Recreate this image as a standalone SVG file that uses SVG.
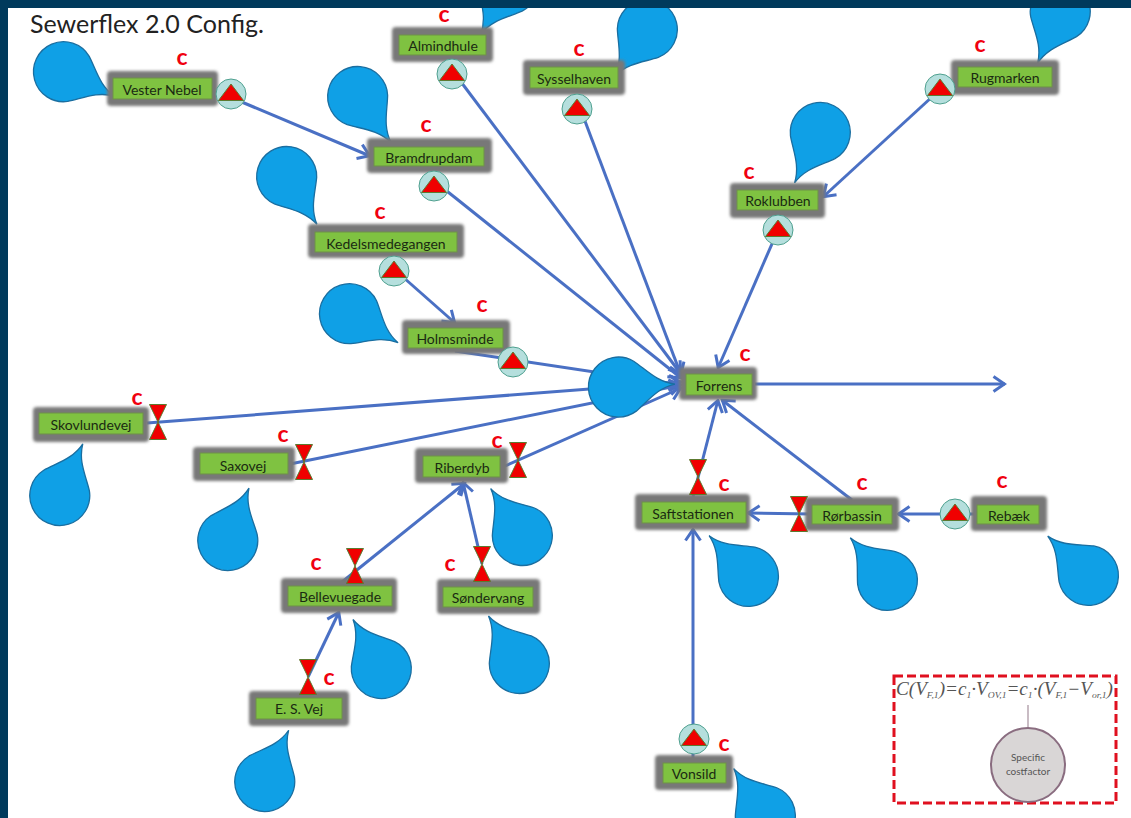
<svg xmlns="http://www.w3.org/2000/svg" width="1131" height="818" viewBox="0 0 1131 818">
<style>
.n{fill:#7fc241;stroke:#6f8f4a;stroke-width:1}
.h{fill:#787878;filter:url(#b)}
.t{font:14px "Lato","Open Sans",sans-serif;fill:#1a2a12;text-anchor:middle;dominant-baseline:central}
.c{font:bold 23px "Lato","Open Sans",sans-serif;fill:#f00010;text-anchor:middle;dominant-baseline:central}
.l{stroke:#4a70c4;stroke-width:3;fill:none}
.d{fill:#0fa0e6;stroke:#1a6ea0;stroke-width:1.3}
.p{fill:#b5dfdd;stroke:#4fa08f;stroke-width:1}
.r{fill:#f00000;stroke:#5c7a30;stroke-width:1}
.f{font:italic 18px "Liberation Serif",serif;fill:#555}
.s{font-size:9px}
.q{font:10px "Lato",sans-serif;fill:#555;text-anchor:middle}
</style>
<defs>
<filter id="b" x="-20%" y="-40%" width="140%" height="180%"><feGaussianBlur stdDeviation="1.5"/></filter>
<marker id="a" viewBox="0 0 16 18" refX="14.5" refY="9" markerWidth="16" markerHeight="18" markerUnits="userSpaceOnUse" orient="auto"><path d="M3 1.5L14 9L3 16.5" fill="none" stroke="#4a70c4" stroke-width="3"/></marker>
<path id="dr" class="d" d="M56 0C38 3 28 16 16 25A30 30 0 1 1 16 -25C28 -16 38 -3 56 0Z"/>
<g id="pu"><circle class="p" r="15"/><path class="r" d="M0 -10L12.5 6.5H-12.5Z"/></g>
<path id="va" class="r" d="M-8.5 -17.5H8.5L0 0L8.5 17.5H-8.5L0 0Z"/>
</defs>
<rect width="1131" height="818" fill="#003a5c"/>
<rect x="8" y="8" width="1123" height="810" fill="#fff"/>
<text x="30" y="33" font-family="Lato, 'Open Sans', sans-serif" font-size="25" fill="#222">Sewerflex 2.0 Config.</text>
<g id="connectors" class="l">
<path d="M218 92L370 156" marker-end="url(#a)"/>
<path d="M452 70L681 374" marker-end="url(#a)"/>
<path d="M577 100L681 375" marker-end="url(#a)"/>
<path d="M433 180L681 378" marker-end="url(#a)"/>
<path d="M395 270L455 323" marker-end="url(#a)"/>
<path d="M455 351L681 385" marker-end="url(#a)"/>
<path d="M945 85L823 197" marker-end="url(#a)"/>
<path d="M778 230L718 368" marker-end="url(#a)"/>
<path d="M147 423L681 382" marker-end="url(#a)"/>
<path d="M290 464L681 385" marker-end="url(#a)"/>
<path d="M505 466L681 388" marker-end="url(#a)"/>
<path d="M693 497L718 400" marker-end="url(#a)"/>
<path d="M852 500L722 400" marker-end="url(#a)"/>
<path d="M812 514L748 513" marker-end="url(#a)"/>
<path d="M975 514L898 514" marker-end="url(#a)"/>
<path d="M755 384L1005 384" marker-end="url(#a)"/>
<path d="M342 582L465 483" marker-end="url(#a)"/>
<path d="M482 564L463 482" marker-end="url(#a)"/>
<path d="M308 677L339 612" marker-end="url(#a)"/>
<path d="M693 763L693 529" marker-end="url(#a)"/>
</g>
<g id="vester-nebel"><use href="#dr" transform="translate(64 72) rotate(25.6)"/><rect class="h" x="107" y="71" width="111" height="35" rx="4"/><rect class="n" x="113" y="78" width="99" height="21"/><text class="t" x="162" y="89">Vester Nebel</text><use href="#pu" x="231" y="94"/><text class="c" x="182" y="56">c</text></g>
<g id="almindhule"><use href="#dr" transform="translate(508 -15) rotate(119)"/><rect class="h" x="392" y="27" width="101" height="35" rx="4"/><rect class="n" x="399" y="35" width="87" height="20"/><text class="t" x="443" y="45">Almindhule</text><use href="#pu" x="452" y="74"/><text class="c" x="444" y="13">c</text></g>
<g id="sysselhaven"><use href="#dr" transform="translate(647 30) rotate(125)"/><rect class="h" x="523" y="60" width="102" height="35" rx="4"/><rect class="n" x="530" y="67" width="88" height="21"/><text class="t" x="574" y="78">Sysselhaven</text><use href="#pu" x="577" y="109"/><text class="c" x="579" y="47">c</text></g>
<g id="rugmarken"><use href="#dr" transform="translate(1060 12) rotate(113.6)"/><rect class="h" x="951" y="60" width="108" height="35" rx="4"/><rect class="n" x="958" y="67" width="94" height="20"/><text class="t" x="1005" y="77">Rugmarken</text><use href="#pu" x="940" y="89"/><text class="c" x="980" y="43">c</text></g>
<g id="bramdrupdam"><use href="#dr" transform="translate(358 97) rotate(54)"/><rect class="h" x="367" y="138" width="125" height="35" rx="4"/><rect class="n" x="374" y="147" width="110" height="19"/><text class="t" x="429" y="157">Bramdrupdam</text><use href="#pu" x="434" y="186"/><text class="c" x="426" y="123">c</text></g>
<g id="roklubben"><use href="#dr" transform="translate(820 133) rotate(117)"/><rect class="h" x="730" y="183" width="95" height="35" rx="4"/><rect class="n" x="737" y="190" width="81" height="20"/><text class="t" x="778" y="200">Roklubben</text><use href="#pu" x="778" y="230"/><text class="c" x="749" y="170">c</text></g>
<g id="kedelsmedegangen"><use href="#dr" transform="translate(287 177) rotate(57.7)"/><rect class="h" x="308" y="224" width="156" height="34" rx="4"/><rect class="n" x="315" y="232" width="142" height="20"/><text class="t" x="386" y="243">Kedelsmedegangen</text><use href="#pu" x="394" y="271"/><text class="c" x="380" y="210">c</text></g>
<g id="holmsminde"><use href="#dr" transform="translate(350 314) rotate(30.8)"/><rect class="h" x="402" y="320" width="108" height="34" rx="4"/><rect class="n" x="408" y="328" width="95" height="20"/><text class="t" x="455" y="338">Holmsminde</text><use href="#pu" x="513" y="362"/><text class="c" x="482" y="303">c</text></g>
<g id="forrens"><use href="#dr" transform="translate(619 387) rotate(-3)"/><rect class="h" x="679" y="367" width="78" height="33" rx="4"/><rect class="n" x="686" y="374" width="66" height="21"/><text class="t" x="719" y="385">Forrens</text><text class="c" x="745" y="352">c</text></g>
<g id="skovlundevej"><use href="#dr" transform="translate(60 495) rotate(-66)"/><rect class="h" x="33" y="407" width="116" height="35" rx="4"/><rect class="n" x="39" y="413" width="104" height="21"/><text class="t" x="91" y="424">Skovlundevej</text><use href="#va" x="158" y="422"/><text class="c" x="137" y="396">c</text></g>
<g id="saxovej"><use href="#dr" transform="translate(228 540) rotate(-68)"/><rect class="h" x="193" y="447" width="102" height="34" rx="4"/><rect class="n" x="200" y="453" width="88" height="21"/><text class="t" x="243" y="465">Saxovej</text><use href="#va" x="304" y="462"/><text class="c" x="283" y="433">c</text></g>
<g id="riberdyb"><use href="#dr" transform="translate(522 535) rotate(-124)"/><rect class="h" x="415" y="448" width="93" height="35" rx="4"/><rect class="n" x="423" y="456" width="77" height="21"/><text class="t" x="462" y="467">Riberdyb</text><use href="#va" x="518" y="460"/><text class="c" x="497" y="439">c</text></g>
<g id="saftstationen"><use href="#dr" transform="translate(748 576) rotate(-134)"/><rect class="h" x="635" y="494" width="115" height="36" rx="4"/><rect class="n" x="642" y="502" width="104" height="21"/><text class="t" x="693" y="513">Saftstationen</text><use href="#va" x="698" y="477"/><text class="c" x="724" y="482">c</text></g>
<g id="rorbassin"><use href="#dr" transform="translate(887 580) rotate(-131)"/><rect class="h" x="805" y="497" width="94" height="34" rx="4"/><rect class="n" x="812" y="505" width="80" height="19"/><text class="t" x="852" y="515">Rørbassin</text><use href="#va" x="799" y="514"/><text class="c" x="862" y="481">c</text></g>
<g id="rebaek"><use href="#dr" transform="translate(1088 575) rotate(-136)"/><rect class="h" x="971" y="496" width="76" height="35" rx="4"/><rect class="n" x="977" y="505" width="62" height="19"/><text class="t" x="1009" y="515">Rebæk</text><use href="#pu" x="955" y="514"/><text class="c" x="1002" y="479">c</text></g>
<g id="bellevuegade"><use href="#dr" transform="translate(381 668) rotate(-120)"/><rect class="h" x="281" y="578" width="116" height="35" rx="4"/><rect class="n" x="288" y="586" width="104" height="20"/><text class="t" x="340" y="596">Bellevuegade</text><use href="#va" x="355" y="566"/><text class="c" x="316" y="561">c</text></g>
<g id="sondervang"><use href="#dr" transform="translate(519 663) rotate(-123)"/><rect class="h" x="437" y="579" width="103" height="35" rx="4"/><rect class="n" x="443" y="587" width="90" height="20"/><text class="t" x="488" y="597">Søndervang</text><use href="#va" x="482" y="564"/><text class="c" x="450" y="562">c</text></g>
<g id="es-vej"><use href="#dr" transform="translate(265 781) rotate(-65)"/><rect class="h" x="249" y="691" width="100" height="35" rx="4"/><rect class="n" x="256" y="698" width="86" height="21"/><text class="t" x="299" y="708">E. S. Vej</text><use href="#va" x="308" y="677"/><text class="c" x="329" y="676">c</text></g>
<g id="vonsild"><use href="#dr" transform="translate(765 815) rotate(-124)"/><rect class="h" x="655" y="755" width="78" height="35" rx="4"/><rect class="n" x="663" y="763" width="63" height="20"/><text class="t" x="694" y="773">Vonsild</text><use href="#pu" x="694" y="739"/><text class="c" x="724" y="742">c</text></g>
<g id="cost-box">
<rect x="894" y="676" width="222" height="127" fill="#fff" stroke="#e0101f" stroke-width="3" stroke-dasharray="9 4"/>
<text class="f" x="896" y="695" textLength="217" lengthAdjust="spacingAndGlyphs">C(V<tspan class="s" dy="3">F,1</tspan><tspan dy="-3">)=c</tspan><tspan class="s" dy="3">1</tspan><tspan dy="-3">·V</tspan><tspan class="s" dy="3">OV,1</tspan><tspan dy="-3">=c</tspan><tspan class="s" dy="3">1</tspan><tspan dy="-3">·(V</tspan><tspan class="s" dy="3">F,1</tspan><tspan dy="-3">−V</tspan><tspan class="s" dy="3">or,1</tspan><tspan dy="-3">)</tspan></text>
<path d="M1028 705V730" stroke="#b7a6b0" stroke-width="1.5"/>
<circle cx="1028" cy="765" r="37" fill="#d9d6d6" stroke="#8a6d80" stroke-width="2"/>
<text class="q" x="1028" y="761">Specific</text>
<text class="q" x="1028" y="775">costfactor</text>
</g>
<rect width="1131" height="8" fill="#003a5c"/>
</svg>
